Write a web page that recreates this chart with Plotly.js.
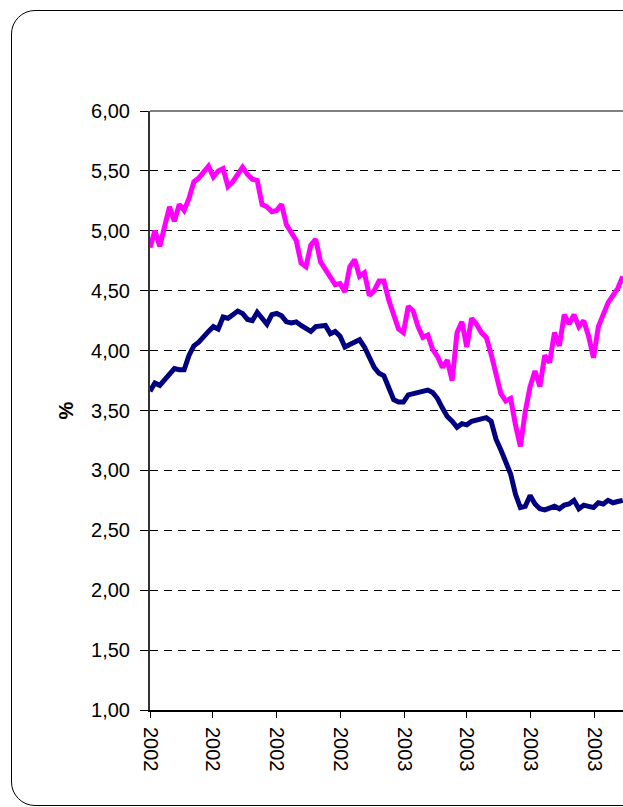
<!DOCTYPE html>
<html>
<head>
<meta charset="utf-8">
<script src="https://cdn.plot.ly/plotly-3.0.1.min.js"></script>
<style>
  html, body { margin:0; padding:0; background:#fff; overflow:hidden; width:623px; height:807px; }
  #frame { position:absolute; left:11px; top:10px; width:800px; height:794px; border:1px solid #000; border-radius:24px; }
  #chart { position:absolute; left:0; top:0; width:720px; height:807px; }
</style>
</head>
<body>
<div id="frame"></div>
<div id="chart"></div>
<script>
// Weekly observations starting on this date
const startDate = '2002-01-01';

// Magenta series (%)
const seriesA = [
  4.86, 5.00, 4.87, 5.05, 5.20, 5.08, 5.22, 5.17, 5.27, 5.41,
  5.44, 5.49, 5.54, 5.45, 5.50, 5.52, 5.37, 5.41, 5.47, 5.53,
  5.47, 5.43, 5.42, 5.22, 5.20, 5.16, 5.17, 5.22, 5.05, 4.98,
  4.92, 4.73, 4.70, 4.88, 4.93, 4.74, 4.68, 4.61, 4.55, 4.56,
  4.49, 4.70, 4.76, 4.62, 4.65, 4.46, 4.50, 4.58, 4.58, 4.42,
  4.30, 4.18, 4.15, 4.37, 4.33, 4.20, 4.11, 4.13, 4.01, 3.95,
  3.86, 3.92, 3.75, 4.15, 4.24, 4.03, 4.27, 4.22, 4.15, 4.11,
  3.97, 3.82, 3.64, 3.58, 3.60, 3.38, 3.20, 3.49, 3.70, 3.83,
  3.70, 3.96, 3.90, 4.15, 4.04, 4.30, 4.22, 4.30, 4.20, 4.25,
  4.12, 3.94, 4.20, 4.30, 4.40, 4.46, 4.52, 4.62
];

// Navy series (%)
const seriesB = [
  3.66, 3.73, 3.71, 3.76, 3.80, 3.85, 3.84, 3.84, 3.96, 4.04,
  4.07, 4.12, 4.16, 4.20, 4.18, 4.28, 4.27, 4.30, 4.33, 4.31,
  4.26, 4.25, 4.32, 4.27, 4.22, 4.30, 4.31, 4.29, 4.24, 4.23,
  4.24, 4.21, 4.19, 4.16, 4.20, 4.20, 4.21, 4.14, 4.16, 4.12,
  4.03, 4.05, 4.07, 4.09, 4.03, 3.95, 3.86, 3.81, 3.79, 3.69,
  3.59, 3.57, 3.57, 3.63, 3.64, 3.66, 3.66, 3.67, 3.65, 3.60,
  3.52, 3.45, 3.41, 3.36, 3.39, 3.38, 3.41, 3.42, 3.43, 3.44,
  3.41, 3.26, 3.17, 3.06, 2.97, 2.80, 2.69, 2.70, 2.79, 2.72,
  2.68, 2.67, 2.68, 2.70, 2.68, 2.71, 2.72, 2.75, 2.68, 2.71,
  2.70, 2.69, 2.73, 2.72, 2.75, 2.73, 2.74, 2.75
];

// X tick positions and labels
const xTickDates = ['2002-01-01', '2002-04-01', '2002-07-01', '2002-10-01',
                    '2003-01-01', '2003-04-01', '2003-07-01', '2003-10-01'];
const xTickLabels = ['2002', '2002', '2002', '2002', '2003', '2003', '2003', '2003'];

// Y tick values
const yTicks = [1.0, 1.5, 2.0, 2.5, 3.0, 3.5, 4.0, 4.5, 5.0, 5.5, 6.0];

function weeklyDates(start, n) {
  const out = [];
  const d0 = new Date(start + 'T00:00:00Z');
  for (let i = 0; i < n; i++) {
    const d = new Date(d0.getTime() + i * 7 * 86400000);
    out.push(d.toISOString().slice(0, 10));
  }
  return out;
}
const dates = weeklyDates(startDate, seriesA.length);

const font = { family: '"Liberation Sans", Arial, sans-serif', size: 20, color: '#000' };

const traces = [
  { x: dates, y: seriesA, type: 'scatter', mode: 'lines',
    line: { color: '#FF00FF', width: 5 }, hoverinfo: 'x+y' },
  { x: dates, y: seriesB, type: 'scatter', mode: 'lines',
    line: { color: '#000080', width: 5 }, hoverinfo: 'x+y' }
];

const layout = {
  width: 720, height: 807,
  margin: { l: 150, r: 20, t: 111, b: 97 },
  paper_bgcolor: 'rgba(0,0,0,0)',
  plot_bgcolor: 'rgba(0,0,0,0)',
  showlegend: false,
  separators: ',.',
  font: font,
  xaxis: {
    type: 'date',
    range: ['2002-01-01', '2004-03-01'],
    tickmode: 'array', tickvals: xTickDates, ticktext: xTickLabels,
    tickangle: 90,
    ticks: 'outside', ticklen: 6, tickwidth: 1, tickcolor: '#000',
    showgrid: false, zeroline: false,
    showline: true, linecolor: '#000', linewidth: 2,
    tickfont: font,
    ticklabelstandoff: 5
  },
  yaxis: {
    range: [1, 6],
    tickvals: yTicks,
    tickformat: '.2f',
    ticks: 'outside', ticklen: 8, tickwidth: 1, tickcolor: '#000',
    showgrid: true, gridcolor: '#000', gridwidth: 1, griddash: '8px,6px',
    zeroline: false,
    showline: true, linecolor: '#333', linewidth: 2,
    tickfont: font,
    ticklabelstandoff: 6,
    title: { text: '<b>%</b>', font: font, standoff: 12 }
  },
  shapes: [
    { type: 'line', xref: 'paper', yref: 'paper', x0: 0, x1: 1, y0: 1, y1: 1,
      line: { color: '#808080', width: 2 } }
  ]
};

Plotly.newPlot('chart', traces, layout, { displayModeBar: false, staticPlot: true });
</script>
</body>
</html>
